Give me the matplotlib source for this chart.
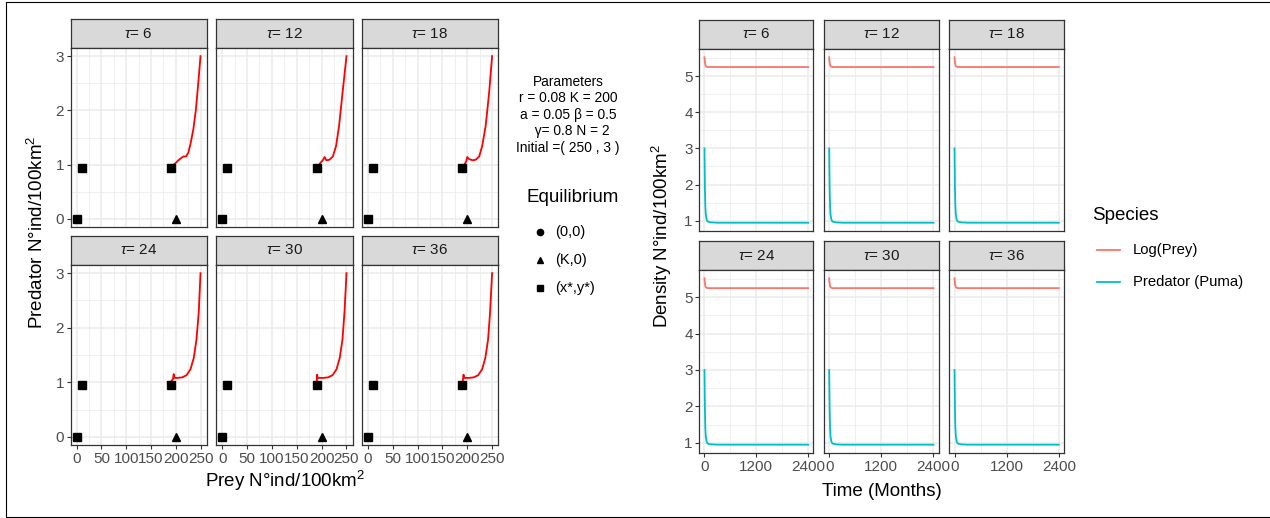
import matplotlib
matplotlib.use("Agg")
import matplotlib.pyplot as plt
from matplotlib.lines import Line2D
from matplotlib.patches import Rectangle
import numpy as np

plt.rcParams['font.family'] = ['Liberation Sans', 'DejaVu Sans']
plt.rcParams['mathtext.fontset'] = 'custom'
plt.rcParams['mathtext.rm'] = 'Liberation Sans'
plt.rcParams['mathtext.it'] = 'Liberation Sans:italic'

# ---- data ----
taus = [6, 12, 18, 24, 30, 36]

# phase trajectories (prey, predator) per tau
phase_prey = {
    6:  [250, 245.5, 240.8, 235.5, 230.2, 225.4, 220.8, 215.4, 210.7, 205.3, 198.7, 192, 190],
    12: [250, 242, 235, 229, 222.5, 216, 209.5, 206, 203, 197.5, 192, 190],
    18: [250, 244, 237, 230, 224, 217, 211, 204, 200, 198, 194, 190],
    24: [250, 246.5, 241.9, 236.5, 229.8, 221.8, 213, 203, 198, 195.8, 194.5, 191, 190],
    30: [250, 246, 242, 236.5, 230, 222, 213, 203, 195, 192, 191, 190.5, 190],
    36: [250, 246, 242, 236.5, 230, 222, 213, 203, 196, 193.5, 192.5, 191.5, 190],
}
phase_pred = {
    6:  [3.0, 2.51, 2.02, 1.65, 1.40, 1.22, 1.15, 1.15, 1.12, 1.08, 1.02, 0.97, 0.95],
    12: [3.0, 2.32, 1.71, 1.34, 1.15, 1.09, 1.08, 1.14, 1.09, 1.03, 0.97, 0.95],
    18: [3.0, 2.32, 1.71, 1.34, 1.15, 1.09, 1.08, 1.10, 1.14, 1.06, 1.0, 0.96],
    24: [3.0, 2.29, 1.79, 1.45, 1.24, 1.13, 1.09, 1.08, 1.08, 1.15, 1.06, 1.02, 0.96],
    30: [3.0, 2.29, 1.79, 1.45, 1.24, 1.13, 1.09, 1.08, 1.08, 1.08, 1.14, 1.06, 0.96],
    36: [3.0, 2.29, 1.79, 1.45, 1.24, 1.13, 1.09, 1.08, 1.08, 1.08, 1.14, 1.06, 0.96],
}

# equilibrium points
eq0 = (0, 0)
eqK = (200, 0)
eq_star_x = [0, 10, 190]
eq_star_y = [0, 0.945, 0.945]

# time series (same in every facet)
time = [0, 5, 10, 20, 30, 45, 60, 90, 150, 300, 2400]
log_prey = [5.52, 5.44, 5.38, 5.31, 5.28, 5.26, 5.255, 5.25, 5.25, 5.25, 5.25]
predator = [3.0, 2.4, 1.9, 1.4, 1.18, 1.06, 1.0, 0.97, 0.955, 0.945, 0.945]

params_lines = ["Parameters", "r = 0.08 K = 200", "a = 0.05 \u03b2 = 0.5",
                "  \u03b3= 0.8 N = 2", "Initial =( 250 , 3 )"]

W, H = 1270, 518
fig = plt.figure(figsize=(W / 100, H / 100), dpi=100)

GRID = '#EBEBEB'
DARK = '#333333'
TICKC = '#4D4D4D'
TS = 11
TITLE = 13.5


def ax_px(x0, y0, x1, y1, **kw):
    return fig.add_axes([x0 / W, 1 - y1 / H, (x1 - x0) / W, (y1 - y0) / H], **kw)


def expand(lo, hi, f=0.05):
    d = (hi - lo) * f
    return lo - d, hi + d


def strip(x0, y0, x1, y1, tau):
    s = ax_px(x0, y0, x1, y1)
    s.set_facecolor('#D9D9D9')
    s.set_xticks([]); s.set_yticks([])
    for sp in s.spines.values():
        sp.set_color(DARK); sp.set_linewidth(0.9)
    s.text(0.5, 0.5, r'$\tau$= %d' % tau, ha='center', va='center',
           fontsize=11, color='#1A1A1A', transform=s.transAxes)


def style_panel(ax, xmaj, xmin, ymaj, ymin, show_x, show_y):
    ax.set_xticks(xmaj); ax.set_xticks(xmin, minor=True)
    ax.set_yticks(ymaj); ax.set_yticks(ymin, minor=True)
    ax.grid(True, which='major', color=GRID, lw=1.1, zorder=0)
    ax.grid(True, which='minor', color=GRID, lw=0.55, zorder=0)
    ax.set_axisbelow(True)
    ax.tick_params(which='minor', length=0)
    ax.tick_params(which='major', length=3.2, width=0.8, color=DARK,
                   labelsize=TS, labelcolor=TICKC, pad=1.5)
    ax.tick_params(axis='x', bottom=show_x, labelbottom=show_x)
    ax.tick_params(axis='y', left=show_y, labelleft=show_y)
    for sp in ax.spines.values():
        sp.set_color(DARK); sp.set_linewidth(0.9)


# ---- left: phase plane facets ----
lx = [(70.5, 206.7), (216, 352.7), (361.7, 498.3)]
lrows = [(19, 48, 227), (236, 265, 445)]
all_px = [v for t in taus for v in phase_prey[t]] + [eq0[0], eqK[0]] + eq_star_x
all_py = [v for t in taus for v in phase_pred[t]] + [eq0[1], eqK[1]] + eq_star_y
lxlim = expand(min(all_px), max(all_px))
lylim = expand(min(all_py), max(all_py))

for i, tau in enumerate(taus):
    r, c = divmod(i, 3)
    x0, x1 = lx[c]
    st, pt, pb = lrows[r]
    strip(x0, st, x1, pt, tau)
    ax = ax_px(x0, pt, x1, pb)
    ax.plot(phase_prey[tau], phase_pred[tau], color='#FF0000', lw=1.3, zorder=3)
    ax.plot([eq0[0]], [eq0[1]], 'o', color='black', ms=5.5, zorder=4)
    ax.plot([eqK[0]], [eqK[1]], '^', color='black', ms=6, zorder=4)
    ax.plot(eq_star_x, eq_star_y, 's', color='black', ms=5.5, ls='none', zorder=4)
    ax.set_xlim(*lxlim); ax.set_ylim(*lylim)
    style_panel(ax, [0, 50, 100, 150, 200, 250], [25, 75, 125, 175, 225],
                [0, 1, 2, 3], [0.5, 1.5, 2.5], r == 1, c == 0)

fig.text(285 / W, 1 - 481 / H, 'Prey N\u00b0ind/100km$^2$', ha='center', va='center',
         fontsize=TITLE)
fig.text(37 / W, 1 - 232 / H, 'Predator N\u00b0ind/100km$^2$', ha='center', va='center',
         rotation=90, fontsize=TITLE)

# parameters text
for k, line in enumerate(params_lines):
    fig.text(568 / W, 1 - (82 + 16.5 * k) / H, line, ha='center', va='center', fontsize=9.9)

# equilibrium legend
fig.text(527 / W, 1 - 198 / H, 'Equilibrium', ha='left', va='center', fontsize=TITLE)
leg_marks = ['o', '^', 's']
leg_labels = ['(0,0)', '(K,0)', '(x*,y*)']
for k, (m, lab) in enumerate(zip(leg_marks, leg_labels)):
    yy = 1 - (232 + 28 * k) / H
    fig.add_artist(Line2D([540 / W], [yy], marker=m, color='black', ms=4.5, ls='none'))
    fig.text(555 / W, yy, lab, ha='left', va='center', fontsize=10.5)

# ---- right: time series facets ----
rx = [(699.3, 813.3), (824, 938.7), (949.3, 1064)]
rrows = [(20, 49, 231), (241, 270, 453)]
rxlim = expand(min(time), max(time))
rylim = expand(min(predator + log_prey), max(predator + log_prey))

for i, tau in enumerate(taus):
    r, c = divmod(i, 3)
    x0, x1 = rx[c]
    st, pt, pb = rrows[r]
    strip(x0, st, x1, pt, tau)
    ax = ax_px(x0, pt, x1, pb)
    ax.plot(time, log_prey, color='#F8766D', lw=1.3, zorder=3)
    ax.plot(time, predator, color='#00BFC4', lw=1.3, zorder=3)
    ax.set_xlim(*rxlim); ax.set_ylim(*rylim)
    style_panel(ax, [0, 1200, 2400], [600, 1800],
                [1, 2, 3, 4, 5], [1.5, 2.5, 3.5, 4.5, 5.5], r == 1, c == 0)

fig.text(882 / W, 1 - 491 / H, 'Time (Months)', ha='center', va='center', fontsize=TITLE)
fig.text(662 / W, 1 - 236 / H, 'Density N\u00b0ind/100km$^2$', ha='center', va='center',
         rotation=90, fontsize=TITLE)

# species legend
fig.text(1092 / W, 1 - 216 / H, 'Species', ha='left', va='center', fontsize=TITLE)
for k, (col, lab) in enumerate(zip(['#F8766D', '#00BFC4'], ['Log(Prey)', 'Predator (Puma)'])):
    yy = 1 - (250 + 32 * k) / H
    fig.add_artist(Line2D([1097 / W, 1120 / W], [yy, yy], color=col, lw=1.3))
    fig.text(1133 / W, yy, lab, ha='left', va='center', fontsize=10.7)

# outer frame of the screenshot
fig.add_artist(Rectangle((6 / W, 1 / H), 1.2, 1 - 3 / H, transform=fig.transFigure,
                         fill=False, edgecolor='black', lw=0.8))

fig.savefig('out.png', dpi=100)
